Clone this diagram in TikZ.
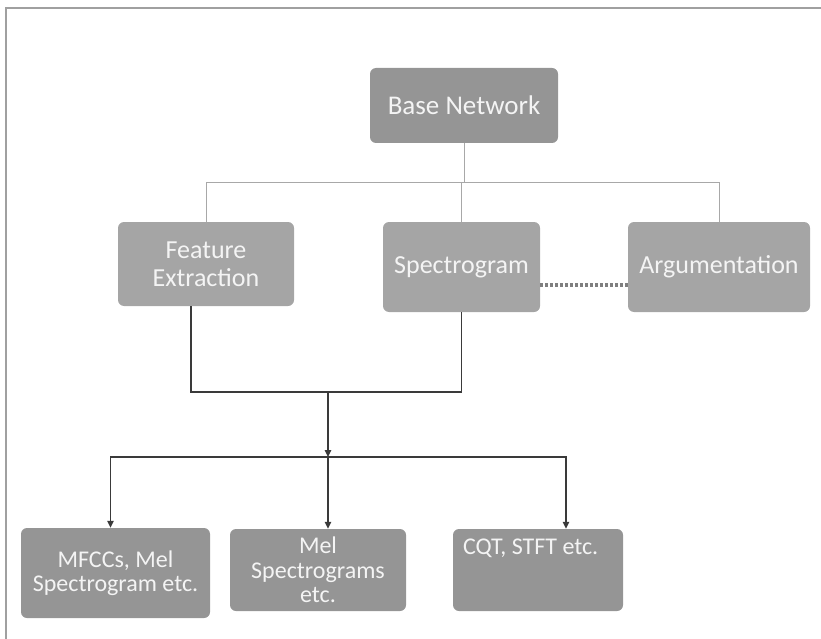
\documentclass[tikz,border=0pt]{standalone}
\usepackage{fontspec}
\setmainfont{Carlito}
\usepackage{tikz}
\usetikzlibrary{arrows.meta}
\definecolor{boxg}{HTML}{A5A5A5}
\definecolor{boxd}{HTML}{959595}
\definecolor{txt}{HTML}{F4F4F4}
\definecolor{wire}{HTML}{A8A8A8}
\definecolor{ink}{HTML}{3A3A3A}
\definecolor{rim}{HTML}{A0A0A0}
\definecolor{dotc}{HTML}{7F7F7F}
\tikzset{
  >={Triangle[length=7pt,width=6.5pt]},
  box/.style={fill=boxg,rounded corners=6pt,inner sep=0pt,align=center,text=txt,font=\fontsize{26}{28}\selectfont},
  dbox/.style={box,fill=boxd,font=\fontsize{24}{24.5}\selectfont},
  tree/.style={draw=wire,line width=0.9pt},
  arr/.style={draw=ink,line width=1.2pt},
  dots/.style={draw=dotc,line width=3.2pt,dash pattern=on 3pt off 2pt},
}
\begin{document}
\begin{tikzpicture}[x=1pt,y=-1pt]
\useasboundingbox (0,0) rectangle (821,639);
\draw[rim,line width=1.5pt] (6,639) -- (6,8) -- (821,8);
% top of the tree
\node[box,fill=boxd,font=\fontsize{27}{28}\selectfont,minimum width=188pt,minimum height=75pt] (base) at (464,105.5) {Base Network};
\node[box,minimum width=176pt,minimum height=84pt] (feat) at (206,264) {Feature\\Extraction};
\node[box,minimum width=157pt,minimum height=90pt] (spec) at (461.5,267) {Spectrogram};
\node[box,minimum width=182pt,minimum height=90pt] (argu) at (719,267) {Argumentation};
\coordinate (hub) at (464,182);
\draw[tree] (base.south) -- (hub);
\draw[tree] (feat.north) |- (argu.north |- hub) -- (argu.north);
\draw[tree] (spec.north |- hub) -- (spec.north);
\draw[dots] ([yshift=-18pt]spec.east) -- ([yshift=-18pt]argu.west);
% outputs
\node[dbox,minimum width=189pt,minimum height=90pt] (mfcc) at (115.5,573) {MFCCs, Mel\\Spectrogram etc.};
\node[dbox,minimum width=176pt,minimum height=82pt] (mel) at (318,570) {Mel\\Spectrograms\\etc.};
\node[dbox,inner sep=10pt] (cqt) at (538,570) {\parbox[t][62pt]{150pt}{\raggedright CQT, STFT etc.}};
\coordinate (join) at (328,392);
\coordinate (bus) at (328,457);
\draw[arr] ([xshift=-15pt]feat.south) |- (spec.south |- join) -- (spec.south);
\draw[arr,->] (join) -- (bus);
\draw[arr,->] (bus) -| ([xshift=-5pt]mfcc.north);
\draw[arr,->] (bus) -- ([xshift=10pt]mel.north);
\draw[arr,->] (bus) -| ([xshift=28pt]cqt.north);
\end{tikzpicture}
\end{document}
